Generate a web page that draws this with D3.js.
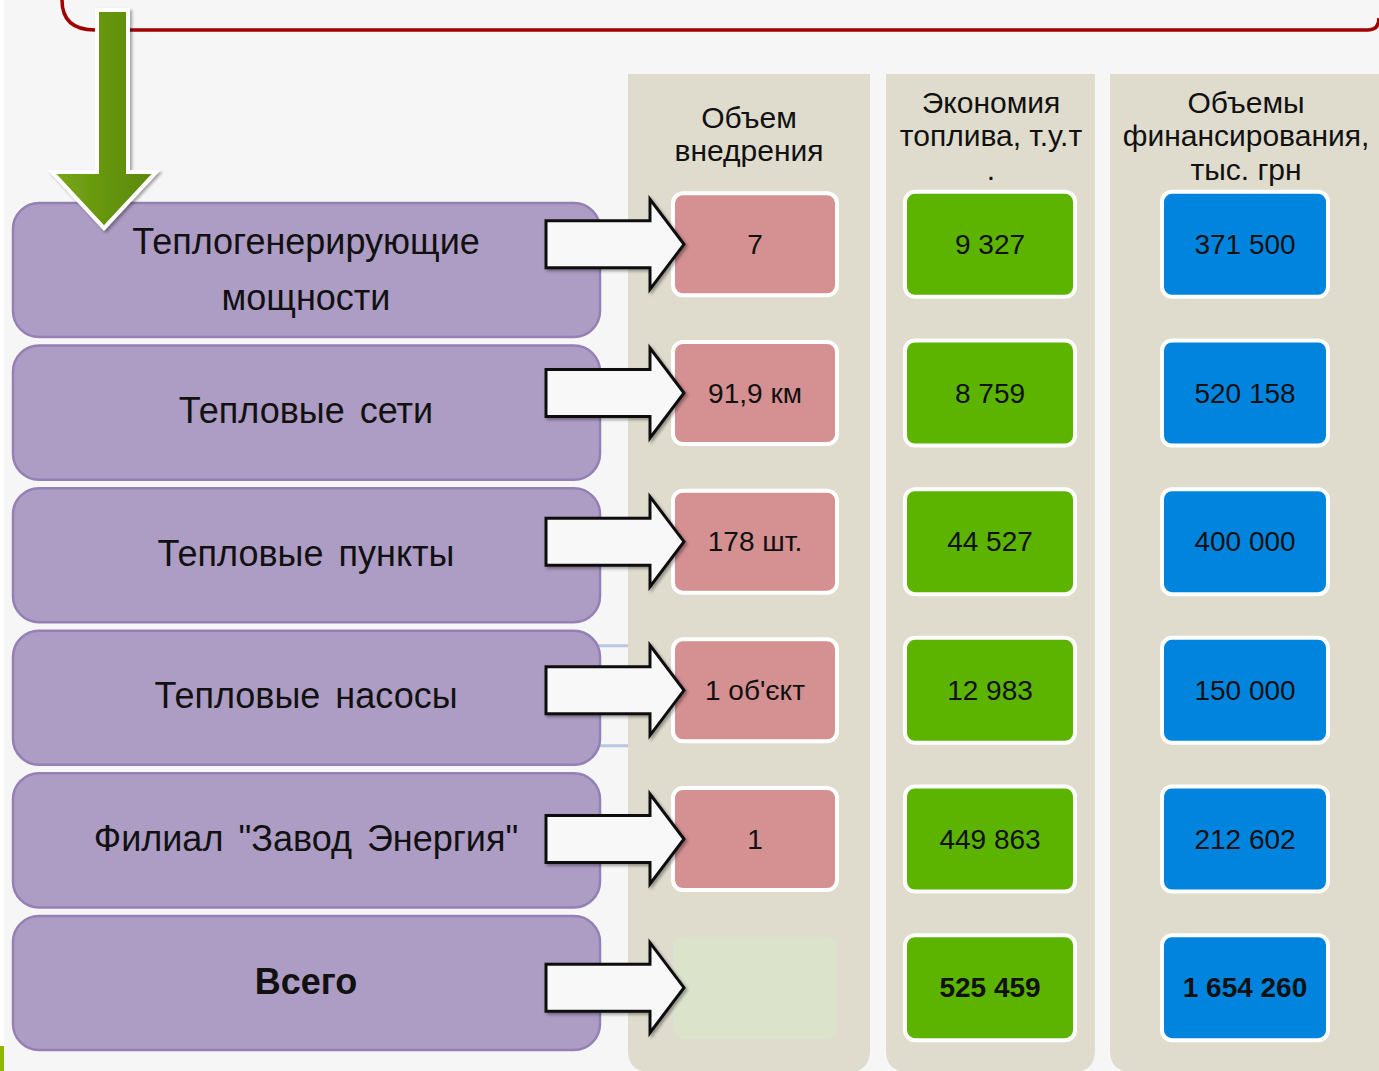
<!DOCTYPE html>
<html>
<head>
<meta charset="utf-8">
<script src="https://cdn.jsdelivr.net/npm/d3@7"></script>
<style>
  html, body { margin: 0; padding: 0; background: #f6f6f6; }
  svg { display: block; }
  text { font-family: "Liberation Sans", Arial, sans-serif; fill: #111; }
</style>
</head>
<body>
<svg id="chart" width="1379" height="1071"></svg>
<script>
// categories (left column)
const categories = [
  ['Теплогенерирующие', 'мощности'],
  ['Тепловые сети'],
  ['Тепловые пункты'],
  ['Тепловые насосы'],
  ['Филиал "Завод Энергия"'],
  ['Всего']
];
const rowKeys = ['gen', 'nets', 'points', 'pumps', 'plant', 'total'];

// column headers
const columnKeys = ['volume', 'fuel', 'finance'];
const columnTitles = [
  ['Объем', 'внедрения'],
  ['Экономия', 'топлива, т.у.т', '.'],
  ['Объемы', 'финансирования,', 'тыс. грн']
];

// values
const volumeValues = ['7', '91,9 км', '178 шт.', '1 об\'єкт', '1', ''];
const fuelValues = [9327, 8759, 44527, 12983, 449863, 525459];
const financeValues = [371500, 520158, 400000, 150000, 212602, 1654260];

const W = 1379, H = 1071;
const svg = d3.select('#chart');
const fmt = v => d3.format(',')(v).replace(/,/g, ' ');

const defs = svg.append('defs');
const sh = defs.append('filter').attr('id', 'shadow')
  .attr('x', '-10%').attr('y', '-10%').attr('width', '130%').attr('height', '130%');
sh.append('feDropShadow').attr('dx', 2).attr('dy', 2).attr('stdDeviation', 1.5)
  .attr('flood-color', '#000').attr('flood-opacity', 0.35);
const gg = defs.append('linearGradient').attr('id', 'greenArrow')
  .attr('x1', 0).attr('x2', 1).attr('y1', 0).attr('y2', 0);
gg.append('stop').attr('offset', '0%').attr('stop-color', '#7aa81c');
gg.append('stop').attr('offset', '50%').attr('stop-color', '#66960c');
gg.append('stop').attr('offset', '100%').attr('stop-color', '#5a8808');

// scales
const rowY = d3.scaleBand().domain(rowKeys).range([203, 1050]).paddingInner(0.06);
const valY = d3.scaleBand().domain(rowKeys).range([170, 1062]);
const colX = d3.scaleOrdinal().domain(columnKeys).range([755, 990, 1245]);
const colBg = d3.scaleOrdinal().domain(columnKeys).range([[628, 870], [886, 1095], [1110, 1400]]);
const colFill = d3.scaleOrdinal().domain(columnKeys).range(['#d59091', '#5cb300', '#0084de']);
const boxW = d3.scaleOrdinal().domain(columnKeys).range([164, 170, 166]);

// left white strip + small green mark
svg.append('rect').attr('x', 0).attr('y', 0).attr('width', 4).attr('height', H).attr('fill', '#fff');
svg.append('rect').attr('x', 0).attr('y', 1046).attr('width', 4).attr('height', 25).attr('fill', '#8cb800');

// red frame (title box, mostly above view)
svg.append('path')
  .attr('d', 'M62,-20 L62,0 Q62,30 95,30 L1368,30 Q1379,30 1379,18')
  .attr('fill', 'none').attr('stroke', '#a00000').attr('stroke-width', 3.5);

// column backgrounds
svg.append('g').selectAll('path')
  .data(columnKeys)
  .join('path')
  .attr('d', d => {
    const [x0, x1] = colBg(d), y0 = 74, y1 = H + 1, r = 22;
    return `M${x0},${y0} L${x1},${y0} L${x1},${y1 - r} Q${x1},${y1} ${x1 - r},${y1} L${x0 + r},${y1} Q${x0},${y1} ${x0},${y1 - r} Z`;
  })
  .attr('fill', '#dfdccd');

// column headers
columnKeys.forEach((k, i) => {
  const lines = columnTitles[i];
  const top = lines.length === 2 ? 117 : 102;
  svg.append('g').selectAll('text')
    .data(lines)
    .join('text')
    .attr('x', colX(k) - (i === 0 ? 6 : -1))
    .attr('y', (d, j) => top + j * 33.5)
    .attr('dy', '0.35em')
    .attr('text-anchor', 'middle')
    .attr('font-size', 30)
    .text(d => d);
});

// light blue connector lines behind row 4
const pumpsBand = rowY('pumps');
svg.append('g').selectAll('line')
  .data([pumpsBand + 15, pumpsBand + rowY.bandwidth() - 19])
  .join('line')
  .attr('x1', 590).attr('x2', 628)
  .attr('y1', d => d).attr('y2', d => d)
  .attr('stroke', '#b9c8df').attr('stroke-width', 3);

// left category boxes
const left = svg.append('g').selectAll('g')
  .data(rowKeys)
  .join('g');
left.append('rect')
  .attr('x', 13).attr('y', d => rowY(d))
  .attr('width', 587).attr('height', rowY.bandwidth())
  .attr('rx', 26)
  .attr('fill', '#ad9cc3').attr('stroke', '#9480b5').attr('stroke-width', 2.5);
left.each(function (d, i) {
  const lines = categories[i];
  const cy = rowY(d) + rowY.bandwidth() / 2;
  d3.select(this).selectAll('text')
    .data(lines)
    .join('text')
    .attr('x', 306)
    .attr('y', (t, j) => cy + (j - (lines.length - 1) / 2) * 56 + (lines.length > 1 ? -1 : -2))
    .attr('dy', '0.35em')
    .attr('text-anchor', 'middle')
    .attr('font-size', 36)
    .attr('word-spacing', 5)
    .attr('font-weight', d === 'total' ? 'bold' : 'normal')
    .text(t => t);
});

// green down arrow
svg.append('path')
  .attr('d', 'M97,10 L128,10 L128,172 L156,172 L104,228 L52,172 L97,172 Z')
  .attr('fill', 'url(#greenArrow)')
  .attr('stroke', '#fff').attr('stroke-width', 4).attr('stroke-linejoin', 'miter')
  .attr('filter', 'url(#shadow)');

// value boxes
const columns = [
  { key: 'volume', values: volumeValues.map(String) },
  { key: 'fuel', values: fuelValues.map(fmt) },
  { key: 'finance', values: financeValues.map(fmt) }
];
columns.forEach(col => {
  const g = svg.append('g').selectAll('g')
    .data(col.values.map((v, i) => ({ v, key: rowKeys[i] })))
    .join('g');
  const bh = col.key === 'volume' ? 102 : 105;
  g.append('rect')
    .attr('x', d => colX(col.key) - boxW(col.key) / 2)
    .attr('y', d => valY(d.key) + valY.bandwidth() / 2 - bh / 2)
    .attr('width', boxW(col.key))
    .attr('height', bh)
    .attr('rx', 10)
    .attr('fill', d => (d.v === '' ? '#dce3cb' : colFill(col.key)))
    .attr('stroke', d => (d.v === '' ? 'none' : '#fff'))
    .attr('stroke-width', 4);
  g.append('text')
    .attr('x', colX(col.key))
    .attr('y', d => valY(d.key) + valY.bandwidth() / 2)
    .attr('dy', '0.35em')
    .attr('text-anchor', 'middle')
    .attr('font-size', 28)
    .attr('font-weight', d => (d.key === 'total' ? 'bold' : 'normal'))
    .text(d => d.v);
});

// block arrows pointing right (drawn over the box edges)
svg.append('g').selectAll('path')
  .data(rowKeys)
  .join('path')
  .attr('d', d => {
    const cy = valY(d) + valY.bandwidth() / 2, x0 = 546;
    return `M${x0},${cy - 23.5} L${x0 + 104},${cy - 23.5} L${x0 + 104},${cy - 45} L${x0 + 138},${cy} ` +
      `L${x0 + 104},${cy + 45} L${x0 + 104},${cy + 23.5} L${x0},${cy + 23.5} Z`;
  })
  .attr('fill', '#f8f8f8').attr('stroke', '#111').attr('stroke-width', 3)
  .attr('stroke-linejoin', 'miter')
  .attr('filter', 'url(#shadow)');
</script>
</body>
</html>
